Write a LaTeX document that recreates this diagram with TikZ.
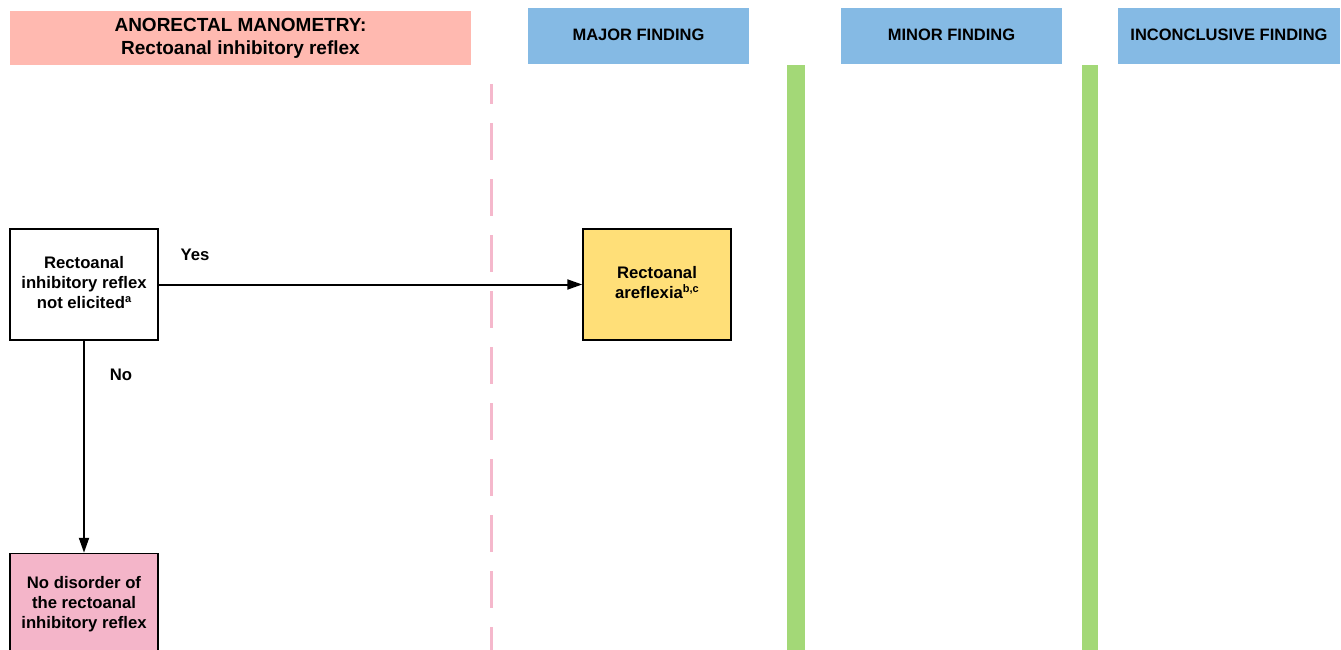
\documentclass[tikz,border=0pt]{standalone}
\usepackage{fontspec}
\setmainfont{Liberation Sans}
\usetikzlibrary{arrows.meta}
\definecolor{hdrpink}{HTML}{FFB9B0}
\definecolor{hdrblue}{HTML}{85BAE4}
\definecolor{bargreen}{HTML}{A3D877}
\definecolor{boxyellow}{HTML}{FFDF78}
\definecolor{boxpink}{HTML}{F4B5C9}
\definecolor{dashpink}{HTML}{F5B8CC}
\newcommand{\supx}[1]{\raisebox{0.38em}{\fontsize{11}{12}\selectfont #1}}
\tikzset{
  hdr/.style={draw=none, inner sep=0pt, align=center, font=\fontsize{16.5}{20}\selectfont\bfseries},
  flowbox/.style={draw=black, line width=1.5pt, inner sep=0pt, align=center, font=\fontsize{16.7}{20}\selectfont\bfseries},
  lbl/.style={inner sep=0pt, font=\fontsize{16.7}{20}\selectfont\bfseries},
  conn/.style={line width=2pt, -{Triangle[length=15pt,width=10pt]}},
}
\begin{document}
\begin{tikzpicture}[x=1pt,y=-1pt]
\useasboundingbox (0,0) rectangle (1341,650);
\clip (0,0) rectangle (1341,650);
% headers
\node[hdr, fill=hdrpink, minimum width=461pt, minimum height=54pt, font=\fontsize{19}{23}\selectfont\bfseries] (header) at (240.5,38) {ANORECTAL MANOMETRY:\\Rectoanal inhibitory reflex};
\node[hdr, fill=hdrblue, minimum width=221pt, minimum height=56pt] (major) at (638.5,36) {\raisebox{2.5pt}{MAJOR FINDING}};
\node[hdr, fill=hdrblue, minimum width=221pt, minimum height=56pt] (minor) at (951.5,36) {\raisebox{2.5pt}{MINOR FINDING}};
\node[hdr, fill=hdrblue, minimum width=222pt, minimum height=56pt] (incon) at (1229,36) {\raisebox{2.5pt}{INCONCLUSIVE FINDING}};
% separators
\fill[bargreen] (787,65) rectangle (805,660);
\fill[bargreen] (1082,65) rectangle (1098,660);
\draw[dashpink, line width=3pt, dash pattern=on 37pt off 19pt, dash phase=17pt] (491,84) -- (491,660);
% boxes
\node[flowbox, fill=white, minimum width=148pt, minimum height=111pt] (box1) at (84,284.5) {\raisebox{2pt}{\begin{tabular}{@{}c@{}}Rectoanal\\inhibitory reflex\\not elicited\supx{a}\end{tabular}}};
\node[flowbox, fill=boxyellow, minimum width=148pt, minimum height=111pt] (box2) at (657,284.5) {\raisebox{2pt}{\begin{tabular}{@{}c@{}}Rectoanal\\areflexia\supx{b,c}\end{tabular}}};
\node[flowbox, fill=boxpink, minimum width=148pt, minimum height=98pt] (box3) at (84,602.5) {\raisebox{-2pt}[\height][\depth]{\begin{tabular}{@{}c@{}}No disorder of\\the rectoanal\\inhibitory reflex\end{tabular}}};
% connectors
\draw[conn] (box1.east) -- (box2.west);
\draw[conn] (box1.south) -- (box3.north);
\node[lbl] (yes) at (195,255) {Yes};
\node[lbl] (no) at (121,375) {No};
\end{tikzpicture}
\end{document}
